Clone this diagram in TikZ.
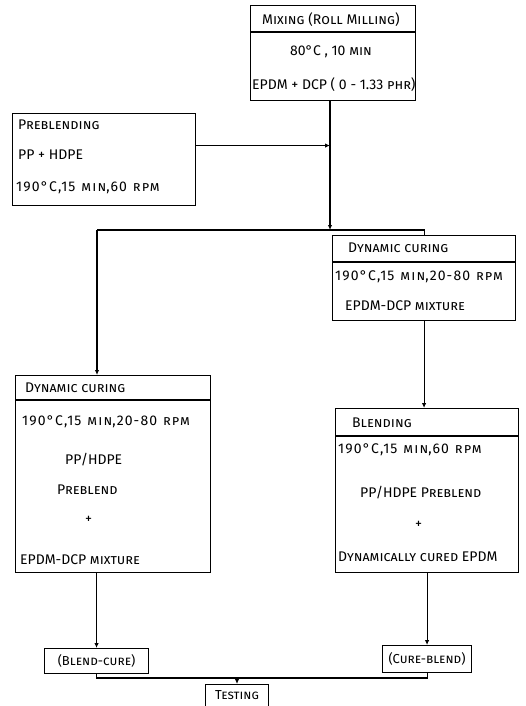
\documentclass[tikz,border=0pt]{standalone}
\usepackage{fontspec}
\setmainfont{Fira Sans}
\usetikzlibrary{arrows.meta}

\begin{document}
\begin{tikzpicture}[x=1pt, y=-1pt, font=\fontsize{14}{16}\selectfont,
    stage/.style={draw, line width=1.1pt, anchor=north west, inner sep=0pt},
    row/.style={anchor=west, inner sep=0pt},
    spaced/.style={row, font=\fontsize{14}{16}\selectfont\addfontfeatures{LetterSpace=8}},
    tag/.style={inner sep=0pt, font=\fontsize{13}{15}\selectfont},
    flow/.style={line width=1.1pt, -{Latex[length=5pt, width=4.5pt]}},
    link/.style={line width=1.1pt}]
    \useasboundingbox (0,0) rectangle (526,706);

    % Boxes
    \node[stage, minimum width=165pt, minimum height=95pt] (mix) at (250,5) {};
    \node[stage, minimum width=183pt, minimum height=92pt] (pre) at (12,113) {};
    \node[stage, minimum width=183pt, minimum height=85pt] (rdyn) at (332,235) {};
    \node[stage, minimum width=195pt, minimum height=197pt] (ldyn) at (15,375) {};
    \node[stage, minimum width=183pt, minimum height=164pt] (blend) at (335,408) {};
    \node[stage, minimum width=104pt, minimum height=25pt] (bcure) at (44,648) {};
    \node[stage, minimum width=89pt, minimum height=27pt] (ccure) at (382,645) {};
    \node[stage, minimum width=63pt, minimum height=30pt] (test) at (205,684) {};

    % Title rules
    \draw[link] ([yshift=-27pt]mix.north west) -- ([yshift=-27pt]mix.north east);
    \draw[link] ([yshift=-27pt]rdyn.north west) -- ([yshift=-27pt]rdyn.north east);
    \draw[link] ([yshift=-25pt]ldyn.north west) -- ([yshift=-25pt]ldyn.north east);
    \draw[link] ([yshift=-28pt]blend.north west) -- ([yshift=-28pt]blend.north east);

    % Mixing
    \node[row] (mix1) at (262,20) {\textsc{Mixing (Roll Milling)}};
    \node[row] (mix2) at (290,52) {80°C , 10 \textsc{min}};
    \node[row] (mix3) at (252,85) {EPDM + DCP ( 0 - 1.33 \textsc{phr})};

    % Preblending
    \node[row] (pre1) at (18,125) {\textsc{Preblending}};
    \node[row] (pre2) at (18,155) {PP + HDPE};
    \node[spaced] (pre3) at (16,188) {190°C,15 \textsc{min},60 \textsc{rpm}};

    % Dynamic curing (right)
    \node[row] (rdyn1) at (348,248) {\textsc{Dynamic curing}};
    \node[spaced] (rdyn2) at (335,277) {190°C,15 \textsc{min},20-80 \textsc{rpm}};
    \node[row] (rdyn3) at (345,306) {EPDM-DCP \textsc{mixture}};

    % Dynamic curing (left)
    \node[row] (ldyn1) at (25,388) {\textsc{Dynamic curing}};
    \node[spaced] (ldyn2) at (22,422) {190°C,15 \textsc{min},20-80 \textsc{rpm}};
    \node[row] (ldyn3) at (65,460) {PP/HDPE};
    \node[row] (ldyn4) at (57,490) {\textsc{Preblend}};
    \node[row] (ldyn5) at (85,520) {+};
    \node[row] (ldyn6) at (20,560) {EPDM-DCP \textsc{mixture}};

    % Blending
    \node[row] (blend1) at (352,423) {\textsc{Blending}};
    \node[spaced] (blend2) at (338,450) {190°C,15 \textsc{min},60 \textsc{rpm}};
    \node[row] (blend3) at (360,493) {PP/HDPE \textsc{Preblend}};
    \node[row] (blend4) at (415,525) {+};
    \node[row] (blend5) at (338,557) {\textsc{Dynamically cured} EPDM};

    % Products
    \node[tag] (bcuret) at (bcure.center) {(\textsc{Blend-cure})};
    \node[tag] (ccuret) at (ccure.center) {(\textsc{Cure-blend})};
    \node[tag] (testt) at (237,695) {\textsc{Testing}};

    % Connectors
    \coordinate (fork) at (330,230);
    \coordinate (lfork) at (97,230);
    \coordinate (join) at (237,678);
    \draw[flow] (mix.south -| fork) -- (fork);
    \draw[flow] ([yshift=14pt]pre.east) -- ([yshift=14pt]pre.east -| fork);
    \draw[link] (lfork) -- (fork) -| (rdyn.north);
    \draw[flow] (lfork) -- (lfork |- ldyn.north);
    \draw[flow] (rdyn.south) -- (rdyn.south |- blend.north);
    \draw[flow] (bcure.north |- ldyn.south) -- (bcure.north);
    \draw[flow] (ccure.north |- blend.south) -- (ccure.north);
    \draw[link] (bcure.south) |- (join) -| (ccure.south);
    \draw[flow] (join) -- (join |- test.north);
\end{tikzpicture}
\end{document}
